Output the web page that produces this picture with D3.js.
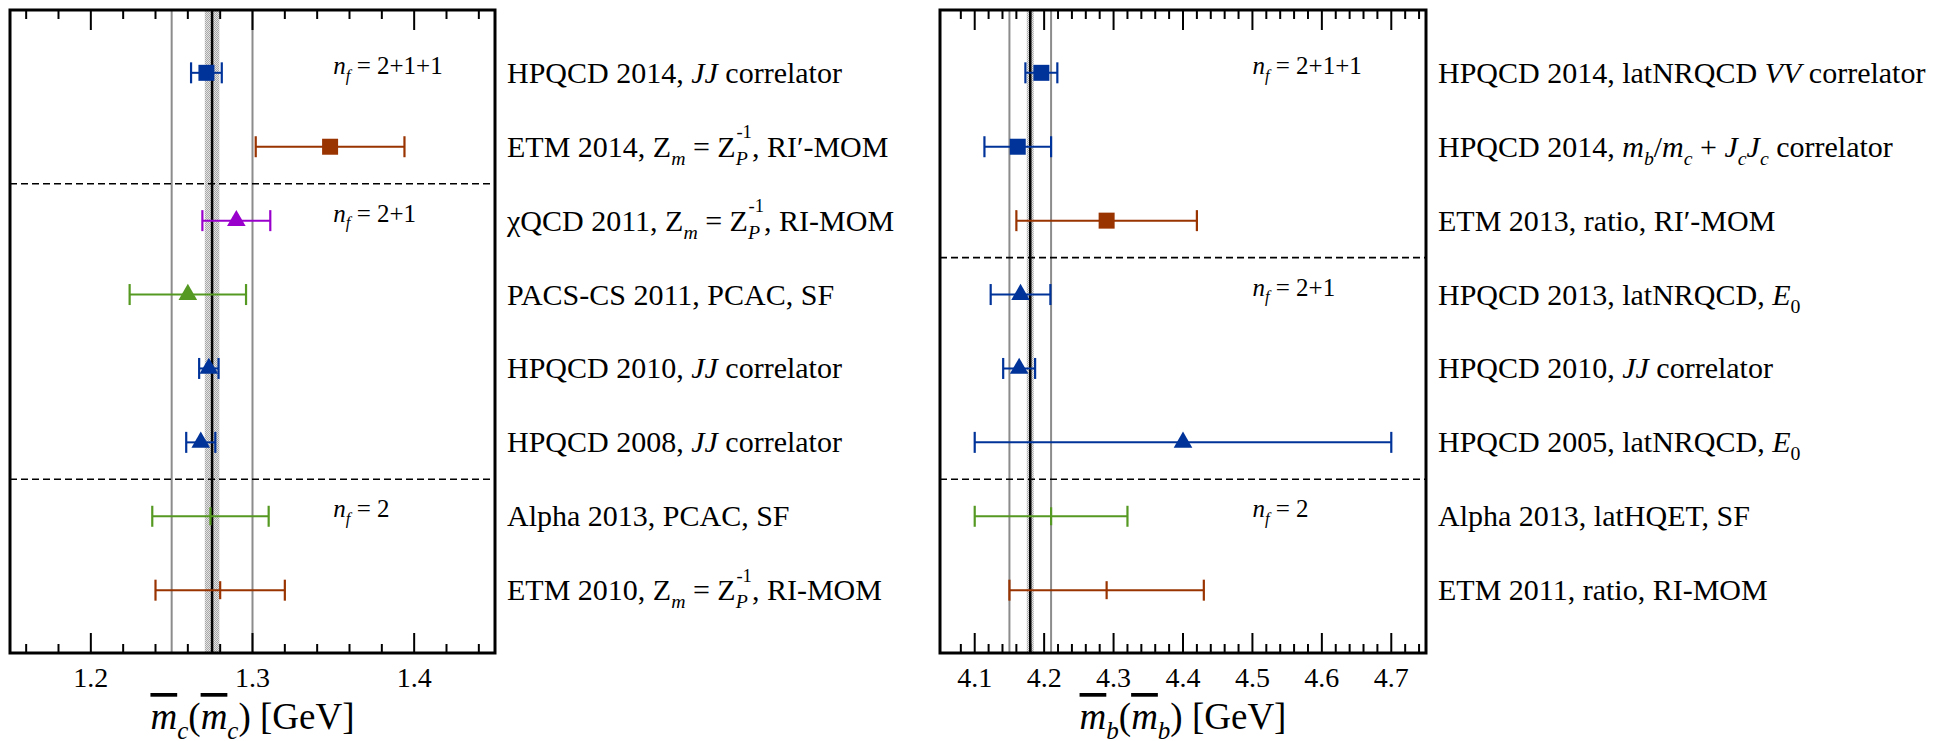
<!DOCTYPE html>
<html lang="en">
<head>
  <meta charset="UTF-8">
  <title>Quark masses</title>
  <script src="https://d3js.org/d3.v7.min.js"></script>
  <style>
    body { margin: 0; background: #fff; }
    text { font-family: "Liberation Serif", "Times New Roman", serif; fill: #000; }
  </style>
</head>
<body>
  <svg width="1952" height="741"></svg>

  <script>
    // charm panel
    var mcLabels = [
      [["HPQCD 2014, "], ["JJ", "i"], [" correlator"]],
      [["ETM 2014, Z"], ["m", "sub"], [" = Z"], ["P", "sub"], ["-1", "sup"], [", RI\u2032-MOM"]],
      [["\u03c7QCD 2011, Z"], ["m", "sub"], [" = Z"], ["P", "sub"], ["-1", "sup"], [", RI-MOM"]],
      [["PACS-CS 2011, PCAC, SF"]],
      [["HPQCD 2010, "], ["JJ", "i"], [" correlator"]],
      [["HPQCD 2008, "], ["JJ", "i"], [" correlator"]],
      [["Alpha 2013, PCAC, SF"]],
      [["ETM 2010, Z"], ["m", "sub"], [" = Z"], ["P", "sub"], ["-1", "sup"], [", RI-MOM"]]
    ];
    var mcValues = [1.2715, 1.348, 1.290, 1.260, 1.273, 1.268, 1.274, 1.28];
    var mcErrors = [0.0095, 0.046, 0.021, 0.036, 0.006, 0.009, 0.036, 0.04];
    var mcMarkers = ["square", "square", "triangle", "triangle", "triangle", "triangle", "none", "none"];
    var mcColors = ["blue", "brown", "purple", "green", "blue", "blue", "green", "brown"];
    var mcSeparators = [1, 5];          // dashed line after these rows
    var mcNf = [[0, "2+1+1"], [2, "2+1"], [6, "2"]];
    var mcTicks = [1.2, 1.3, 1.4];
    var mcPdg = [1.275, 0.025];
    var mcBand = 0.0045;

    // bottom panel
    var mbLabels = [
      [["HPQCD 2014, latNRQCD "], ["VV", "i"], [" correlator"]],
      [["HPQCD 2014, "], ["m", "i"], ["b", "sub"], ["/"], ["m", "i"], ["c", "sub"], [" + "], ["J", "i"], ["c", "sub"], ["J", "i"], ["c", "sub"], [" correlator"]],
      [["ETM 2013, ratio, RI\u2032-MOM"]],
      [["HPQCD 2013, latNRQCD, "], ["E", "i"], ["0", "subr"]],
      [["HPQCD 2010, "], ["JJ", "i"], [" correlator"]],
      [["HPQCD 2005, latNRQCD, "], ["E", "i"], ["0", "subr"]],
      [["Alpha 2013, latHQET, SF"]],
      [["ETM 2011, ratio, RI-MOM"]]
    ];
    var mbValues = [4.196, 4.162, 4.29, 4.166, 4.164, 4.40, 4.21, 4.29];
    var mbErrors = [0.023, 0.048, 0.13, 0.043, 0.023, 0.30, 0.11, 0.14];
    var mbMarkers = ["square", "square", "square", "triangle", "triangle", "triangle", "none", "none"];
    var mbColors = ["blue", "blue", "brown", "blue", "blue", "blue", "green", "brown"];
    var mbSeparators = [2, 5];
    var mbNf = [[0, "2+1+1"], [3, "2+1"], [6, "2"]];
    var mbTicks = [4.1, 4.2, 4.3, 4.4, 4.5, 4.6, 4.7];
    var mbPdg = [4.18, 0.03];
    var mbBand = 0.005;

    var palette = { blue: "#003399", brown: "#993300", purple: "#9900cc", green: "#559922" };

    var svg = d3.select("svg");
    var plotTop = 10, plotBottom = 653;

    // stipple for the average band
    var pat = svg.append("defs").append("pattern")
        .attr("id", "stip").attr("width", 2).attr("height", 2)
        .attr("patternUnits", "userSpaceOnUse");
    pat.append("rect").attr("width", 2).attr("height", 2).attr("fill", "#e4e4e4");
    pat.append("rect").attr("width", 1).attr("height", 1).attr("fill", "#a8a8a8");
    pat.append("rect").attr("x", 1).attr("y", 1).attr("width", 1).attr("height", 1).attr("fill", "#a8a8a8");

    // text with italics, sub- and superscripts; shifts are undone on the next piece
    function writeRich(sel, parts, size) {
      var back = 0;
      parts.forEach(function(p) {
        var t = sel.append("tspan").text(p[0]);
        var kind = p[1];
        var shift = 0;
        if (kind === "i") t.attr("font-style", "italic");
        if (kind === "sub" || kind === "subr") {
          t.attr("font-size", size * 0.66);
          if (kind === "sub") t.attr("font-style", "italic");
          shift = size * 0.27;
        }
        if (kind === "sup") {
          t.attr("font-size", size * 0.62).attr("dx", -size * 0.38);
          shift = -size * 0.62;
        }
        if (back + shift !== 0) t.attr("dy", back + shift);
        back = -shift;
      });
    }

    function panel(cfg) {
      var x = d3.scaleLinear().domain(cfg.domain).range(cfg.range);
      var y = d3.scalePoint().domain(d3.range(cfg.values.length)).range([plotTop, plotBottom]).padding(0.85);
      var g = svg.append("g");

      // average band + lines
      g.append("rect")
          .attr("x", x(cfg.pdg[0] - cfg.band)).attr("y", plotTop)
          .attr("width", x(cfg.pdg[0] + cfg.band) - x(cfg.pdg[0] - cfg.band))
          .attr("height", plotBottom - plotTop).attr("fill", "url(#stip)");
      g.selectAll(".pdg").data([cfg.pdg[0] - cfg.pdg[1], cfg.pdg[0] + cfg.pdg[1]])
        .enter().append("line")
          .attr("x1", d => x(d)).attr("x2", d => x(d))
          .attr("y1", plotTop).attr("y2", plotBottom)
          .attr("stroke", "#8c8c8c").attr("stroke-width", 2);
      g.append("line")
          .attr("x1", x(cfg.pdg[0])).attr("x2", x(cfg.pdg[0]))
          .attr("y1", plotTop).attr("y2", plotBottom)
          .attr("stroke", "#000").attr("stroke-width", 2.5);

      // separators
      g.selectAll(".sep").data(cfg.separators).enter().append("line")
          .attr("x1", cfg.range[0]).attr("x2", cfg.range[1])
          .attr("y1", d => (y(d) + y(d + 1)) / 2).attr("y2", d => (y(d) + y(d + 1)) / 2)
          .attr("stroke", "#000").attr("stroke-width", 1.6).attr("stroke-dasharray", "7,4");

      // ticks top and bottom
      var minor = d3.range(Math.round(cfg.domain[0] * 50) + 1, Math.round(cfg.domain[1] * 50) + 1).map(d => d / 50);
      minor = minor.filter(d => d < cfg.domain[1] - 1e-6);
      var isMajor = d => Math.abs(d * 10 - Math.round(d * 10)) < 1e-6;
      [[plotTop, 1], [plotBottom, -1]].forEach(function(e) {
        g.selectAll(null).data(minor).enter().append("line")
            .attr("x1", d => x(d)).attr("x2", d => x(d))
            .attr("y1", e[0]).attr("y2", d => e[0] + e[1] * (isMajor(d) ? 20 : 9))
            .attr("stroke", "#000").attr("stroke-width", 2);
      });
      g.selectAll(".tl").data(cfg.ticks).enter().append("text")
          .attr("x", d => x(d)).attr("y", 687)
          .attr("text-anchor", "middle").attr("font-size", 28)
          .text(d => d.toFixed(1));

      // error bars
      var pts = g.selectAll(".pt").data(cfg.values.map((v, i) => ({ v: v, e: cfg.errors[i], m: cfg.markers[i], c: palette[cfg.colors[i]], i: i })))
        .enter().append("g").attr("class", "pt");
      pts.append("line")
          .attr("x1", d => x(d.v - d.e)).attr("x2", d => x(d.v + d.e))
          .attr("y1", d => y(d.i)).attr("y2", d => y(d.i))
          .attr("stroke", d => d.c).attr("stroke-width", 2);
      pts.selectAll(".cap").data(d => [[d, d.v - d.e, 10.5], [d, d.v + d.e, 10.5], [d, d.v, d.m === "none" ? 9 : 0]])
        .enter().append("line")
          .attr("x1", d => x(d[1])).attr("x2", d => x(d[1]))
          .attr("y1", d => y(d[0].i) - d[2]).attr("y2", d => y(d[0].i) + d[2])
          .attr("stroke", d => d[0].c).attr("stroke-width", 2.2);
      pts.filter(d => d.m !== "none").append("path")
          .attr("transform", d => "translate(" + x(d.v) + "," + y(d.i) + ")")
          .attr("d", d => d.m === "square" ? d3.symbol(d3.symbolSquare, 256)() : d3.symbol(d3.symbolTriangle, 150)())
          .attr("fill", d => d.c);

      // nf labels
      cfg.nf.forEach(function(n) {
        var t = g.append("text").attr("x", x(cfg.nfAt)).attr("y", y(n[0]) + 1).attr("font-size", 25);
        writeRich(t, [["n", "i"], ["f", "sub"], [" = " + n[1]]], 25);
      });

      // frame
      g.append("rect")
          .attr("x", cfg.range[0]).attr("y", plotTop)
          .attr("width", cfg.range[1] - cfg.range[0]).attr("height", plotBottom - plotTop)
          .attr("fill", "none").attr("stroke", "#000").attr("stroke-width", 3);

      // row labels
      cfg.labels.forEach(function(parts, i) {
        var t = svg.append("text").attr("x", cfg.range[1] + 12).attr("y", y(i) + 10).attr("font-size", 30);
        writeRich(t, parts, 30);
      });

      // axis title
      var at = svg.append("text").attr("x", (cfg.range[0] + cfg.range[1]) / 2).attr("y", 729)
          .attr("text-anchor", "middle").attr("font-size", 37);
      at.append("tspan").text("m").attr("font-style", "italic").attr("text-decoration", "overline");
      at.append("tspan").text(cfg.q).attr("font-style", "italic").attr("font-size", 25).attr("dy", 10);
      at.append("tspan").text("(").attr("dy", -10);
      at.append("tspan").text("m").attr("font-style", "italic").attr("text-decoration", "overline");
      at.append("tspan").text(cfg.q).attr("font-style", "italic").attr("font-size", 25).attr("dy", 10);
      at.append("tspan").text(") [GeV]").attr("dy", -10);
    }

    panel({ domain: [1.15, 1.45], range: [10, 495], values: mcValues, errors: mcErrors, markers: mcMarkers,
            colors: mcColors, separators: mcSeparators, nf: mcNf, nfAt: 1.35, ticks: mcTicks,
            pdg: mcPdg, band: mcBand, labels: mcLabels, q: "c" });
    panel({ domain: [4.05, 4.75], range: [940, 1426], values: mbValues, errors: mbErrors, markers: mbMarkers,
            colors: mbColors, separators: mbSeparators, nf: mbNf, nfAt: 4.5, ticks: mbTicks,
            pdg: mbPdg, band: mbBand, labels: mbLabels, q: "b" });
  </script>
</body>
</html>
